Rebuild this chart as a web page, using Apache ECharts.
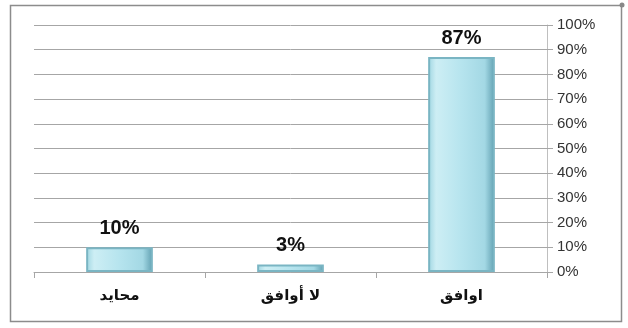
<!DOCTYPE html>
<html><head><meta charset="utf-8">
<script src="https://cdn.jsdelivr.net/npm/echarts@6/dist/echarts.min.js"></script>
<style>html,body{margin:0;padding:0;background:#fff}#c{width:628px;height:328px}</style>
</head><body><div id="c"></div>
<script>
const categories = ['محايد', 'لا أوافق', 'اوافق'];
const values = [10, 3, 87];
const yTicks = [0, 10, 20, 30, 40, 50, 60, 70, 80, 90, 100];

const chart = echarts.init(document.getElementById('c'));
chart.setOption({
  backgroundColor: '#fff',
  animation: false,
  graphic: [{
    type: 'rect', shape: { x: 10.5, y: 5.5, width: 611, height: 316 },
    style: { fill: 'none', stroke: '#8c8c8c', lineWidth: 1.5 }
  }, {
    type: 'circle', shape: { cx: 622, cy: 5, r: 2.5 }, style: { fill: '#888' }
  }],
  grid: { left: 34, right: 81, top: 25, bottom: 56 },
  xAxis: {
    type: 'category', data: categories,
    axisLine: { lineStyle: { color: '#a6a6a6', width: 1 } },
    axisTick: { show: true, alignWithLabel: false, length: 6, lineStyle: { color: '#a6a6a6' } },
    axisLabel: { color: '#111', fontWeight: 'bold', fontSize: 15, fontFamily: 'DejaVu Sans, sans-serif', margin: 17 }
  },
  yAxis: {
    type: 'value', position: 'right', min: 0, max: 100, interval: 10,
    axisLine: { show: true, lineStyle: { color: '#bfbfbf' } },
    axisTick: { show: true, length: 6, lineStyle: { color: '#a6a6a6' } },
    splitLine: { lineStyle: { color: '#a6a6a6', width: 1 } },
    axisLabel: {
      color: '#333', fontSize: 15, fontFamily: 'Liberation Sans, Arial, sans-serif', margin: 10,
      formatter: v => yTicks.includes(v) ? v + '%' : ''
    }
  },
  series: [{
    type: 'bar', data: values, barWidth: '39%',
    itemStyle: {
      color: new echarts.graphic.LinearGradient(0, 0, 1, 0, [
        { offset: 0, color: '#9fd6e2' },
        { offset: 0.12, color: '#cdeef4' },
        { offset: 0.5, color: '#b6e4ee' },
        { offset: 0.85, color: '#a3d8e4' },
        { offset: 1, color: '#5f9fb0' }
      ]),
      borderColor: '#7ab5c3', borderWidth: 2
    },
    label: {
      show: true, position: 'top', distance: 9,
      formatter: p => p.value + '%',
      color: '#111', fontWeight: 'bold', fontSize: 20, fontFamily: 'Liberation Sans, Arial, sans-serif'
    }
  }]
});
</script></body></html>
